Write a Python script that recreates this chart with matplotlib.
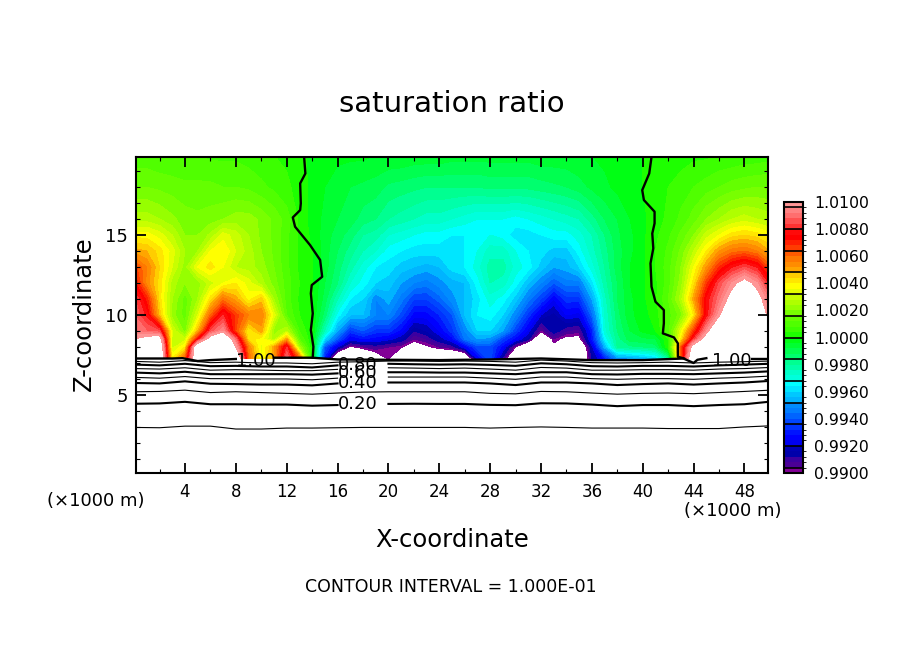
import numpy as np
import matplotlib
matplotlib.use("Agg")
import matplotlib.pyplot as plt
from matplotlib.colors import ListedColormap, BoundaryNorm

W, H = 904, 654

# saturation ratio field, (value - 1) * 1e4, one row per height, one column per km
grid_x = list(range(51))
grid_z = [7.3, 8, 8.5, 9, 10, 11, 12, 13, 14, 15, 16, 18, 20]
sat_dev = [
    [125, 125, 125, 40, 60, 125, 125, 125, 125, 60,
     36, 50, 90, 60, 0, -70, -125, -125, -125, -110,
     -98, -125, -125, -125, -125, -125, -125, -76, -60, -90,
     -125, -125, -125, -125, -125, -125, -88, -70, -50, -48,
     -45, -40, -20, 60, 125, 125, 125, 125, 125, 125, 125],
    [125, 125, 125, 30, 40, 125, 125, 125, 100, 56,
     34, 50, 80, 24, 0, -60, -80, -102, -96, -92,
     -96, -99, -110, -102, -96, -92, -76, -62, -62, -74,
     -100, -125, -125, -104, -125, -125, -82, -46, -20, -17,
     -16, -14, 4, 60, 110, 125, 125, 125, 125, 125, 125],
    [100, 106, 112, 30, 30, 72, 110, 125, 88, 42,
     38, 26, 50, 12, 0, -40, -60, -76, -72, -74,
     -78, -84, -96, -92, -84, -74, -56, -48, -50, -64,
     -74, -86, -125, -96, -104, -104, -72, -36, -18, -10,
     -9, -8, 4, 40, 80, 110, 125, 125, 125, 125, 125],
    [92, 88, 84, 32, 18, 48, 84, 96, 64, 40,
     50, 22, 28, 8, 0, -25, -48, -66, -60, -66,
     -66, -74, -88, -84, -76, -66, -52, -40, -40, -48,
     -64, -78, -98, -85, -92, -94, -70, -30, -16, -8,
     -3, 0, 10, 34, 66, 95, 125, 125, 125, 125, 108],
    [88, 78, 46, 22, 14, 32, 60, 80, 66, 56,
     56, 34, 12, 4, 0, -14, -34, -44, -44, -52,
     -52, -62, -74, -74, -68, -60, -44, -36, -34, -40,
     -52, -66, -80, -86, -76, -78, -58, -28, -14, -5,
     -2, 2, 10, 18, 40, 76, 98, 125, 125, 125, 92],
    [86, 70, 42, 24, 14, 24, 42, 58, 50, 38,
     46, 24, 10, 3, 0, -10, -24, -36, -40, -52,
     -46, -54, -64, -64, -58, -50, -44, -38, -30, -34,
     -42, -54, -64, -76, -66, -66, -48, -26, -12, -5,
     -1, 3, 12, 26, 50, 76, 90, 106, 125, 106, 90],
    [74, 54, 42, 26, 20, 22, 30, 36, 40, 34,
     26, 18, 10, 4, 0, -8, -16, -28, -34, -40,
     -42, -48, -52, -54, -50, -46, -44, -34, -24, -26,
     -34, -44, -52, -60, -54, -54, -38, -22, -12, -4,
     -1, 3, 10, 22, 42, 66, 84, 96, 106, 96, 76],
    [66, 56, 44, 32, 22, 36, 42, 36, 28, 26,
     22, 16, 9, 3, 0, -6, -14, -22, -30, -36,
     -38, -42, -44, -46, -44, -38, -36, -30, -22, -22,
     -30, -34, -42, -48, -46, -40, -30, -20, -10, -4,
     -1, 4, 10, 20, 36, 52, 68, 78, 84, 78, 62],
    [50, 48, 42, 34, 24, 24, 36, 40, 32, 26,
     20, 15, 9, 3, 0, -6, -12, -18, -24, -28,
     -34, -36, -38, -38, -38, -38, -36, -32, -26, -26,
     -32, -36, -38, -42, -42, -34, -26, -18, -10, -5,
     -1, 4, 9, 17, 28, 40, 52, 58, 60, 56, 48],
    [38, 38, 34, 28, 20, 20, 25, 34, 30, 24,
     19, 15, 9, 3, -1, -6, -10, -14, -20, -22,
     -28, -30, -32, -34, -34, -36, -36, -34, -32, -34,
     -38, -38, -36, -34, -34, -30, -24, -16, -9, -5,
     -1, 3, 7, 13, 20, 30, 36, 42, 44, 42, 38],
    [26, 26, 24, 21, 18, 17, 18, 20, 22, 22,
     19, 15, 10, 3, -2, -5, -8, -10, -14, -16,
     -20, -22, -24, -26, -26, -28, -30, -32, -32, -32,
     -34, -32, -30, -28, -26, -24, -18, -12, -8, -4,
     -1, 2, 5, 9, 14, 20, 24, 28, 30, 28, 26],
    [16, 16, 15, 14, 13, 13, 13, 12, 12, 11,
     9, 7, 5, 2, -1, -4, -6, -8, -9, -10,
     -13, -14, -15, -16, -16, -16, -16, -16, -15, -15,
     -15, -15, -14, -13, -12, -10, -7, -5, -3, -1,
     0, 2, 4, 6, 8, 10, 12, 14, 15, 16, 16],
    [9, 9, 8, 8, 8, 8, 7, 7, 7, 6,
     5, 4, 3, 1, -1, -2, -3, -3, -3, -4,
     -4, -4, -5, -5, -5, -6, -6, -6, -6, -6,
     -6, -6, -5, -5, -5, -4, -4, -3, -2, -1,
     0, 1, 2, 2, 3, 3, 4, 4, 5, 5, 6],
]

# colour table, one colour per band, bottom to top
band_rgb = [(130, 0, 150),
            (75, 0, 150), (60, 0, 160), (0, 0, 170), (0, 0, 180),
            (0, 0, 240), (0, 0, 255), (0, 20, 255), (0, 50, 255),
            (0, 70, 255), (0, 100, 255), (0, 125, 255), (0, 140, 255),
            (0, 180, 255), (0, 200, 255), (0, 230, 255), (0, 255, 255),
            (0, 255, 220), (0, 255, 200), (0, 255, 170), (0, 255, 145),
            (0, 255, 110), (0, 255, 80), (0, 255, 50), (0, 255, 20),
            (30, 255, 0), (60, 255, 0), (80, 255, 0), (100, 255, 0),
            (120, 255, 0), (150, 255, 0), (175, 255, 0), (200, 255, 0),
            (230, 255, 0), (255, 255, 0), (255, 230, 0), (255, 205, 0),
            (255, 165, 0), (255, 140, 0), (255, 120, 0), (255, 90, 0),
            (255, 60, 0), (255, 30, 0), (255, 0, 0), (255, 10, 10),
            (255, 50, 50), (255, 80, 80), (255, 110, 110), (255, 130, 130),
            (255, 150, 150)]
cbar_ticks = [0.990, 0.992, 0.994, 0.996, 0.998, 1.000, 1.002, 1.004, 1.006, 1.008, 1.010]

# heights of the lower contours, every 2 km
line_x = list(range(0, 51, 2))
line_heights = {
    0.1: [2.97, 2.95, 3.05, 3.05, 2.87, 2.87, 2.93, 2.93, 2.95, 2.97, 2.97, 2.97, 2.97, 2.97, 2.93, 2.97, 3.0, 2.97, 2.93, 2.93, 2.93, 2.9, 2.9, 2.9, 3.0, 3.07],
    0.2: [4.45, 4.47, 4.57, 4.42, 4.42, 4.40, 4.40, 4.33, 4.37, 4.42, 4.44, 4.45, 4.44, 4.44, 4.38, 4.36, 4.48, 4.47, 4.40, 4.30, 4.37, 4.37, 4.30, 4.37, 4.42, 4.58],
    0.3: [5.2, 5.22, 5.3, 5.15, 5.2, 5.15, 5.1, 5.05, 5.12, 5.18, 5.2, 5.2, 5.2, 5.2, 5.1, 5.07, 5.22, 5.2, 5.12, 5.05, 5.1, 5.12, 5.08, 5.15, 5.22, 5.3],
    0.4: [5.75, 5.72, 5.85, 5.7, 5.68, 5.65, 5.65, 5.6, 5.72, 5.75, 5.78, 5.78, 5.78, 5.78, 5.72, 5.62, 5.78, 5.78, 5.72, 5.62, 5.68, 5.72, 5.65, 5.72, 5.78, 5.88],
    0.5: [6.1, 6.05, 6.15, 6.02, 6.02, 6.0, 6.0, 5.95, 6.05, 6.08, 6.12, 6.12, 6.12, 6.12, 6.05, 5.98, 6.12, 6.12, 6.02, 5.98, 6.02, 6.02, 5.98, 6.05, 6.1, 6.18],
    0.6: [6.4, 6.35, 6.45, 6.3, 6.3, 6.3, 6.3, 6.27, 6.35, 6.4, 6.42, 6.42, 6.4, 6.4, 6.35, 6.3, 6.42, 6.42, 6.3, 6.28, 6.32, 6.32, 6.3, 6.35, 6.4, 6.48],
    0.7: [6.65, 6.62, 6.7, 6.55, 6.58, 6.55, 6.52, 6.52, 6.6, 6.65, 6.7, 6.68, 6.65, 6.68, 6.62, 6.55, 6.72, 6.68, 6.55, 6.55, 6.58, 6.58, 6.55, 6.62, 6.65, 6.72],
    0.8: [6.9, 6.85, 6.95, 6.8, 6.82, 6.78, 6.78, 6.72, 6.85, 6.88, 6.95, 6.92, 6.9, 6.92, 6.88, 6.82, 6.98, 6.92, 6.8, 6.78, 6.82, 6.82, 6.78, 6.85, 6.9, 6.95],
    0.9: [7.1, 7.05, 7.15, 7.02, 7.05, 7.0, 7.0, 6.95, 7.05, 7.08, 7.12, 7.12, 7.1, 7.12, 7.1, 7.05, 7.18, 7.12, 7.02, 7.0, 7.02, 7.05, 7.0, 7.05, 7.08, 7.12],
}
gapped_lines = [0.2, 0.4, 0.5, 0.6, 0.7, 0.8]

# the 1.00 contour: base line plus the two wiggly lines going up
base_x = [0, 3, 3.8, 5, 6, 8, np.nan, 11, 14, 16, 20, 24, 28, 32, 36, 40, 43.2, 44, 44.3, 45, np.nan, 48.6, 50]
base_z = [7.28, 7.28, 7.3, 7.12, 7.18, 7.25, np.nan, 7.33, 7.33, 7.22, 7.2, 7.18, 7.22, 7.28, 7.18, 7.18, 7.28, 7.0, 7.2, 7.3, np.nan, 7.25, 7.25]
left_x = [13.37, 13.47, 13.06, 13.11, 13.06, 12.48, 12.66, 13.84, 14.63, 14.79, 13.97, 13.9, 14.05, 13.9, 14.1, 14.05]
left_z = [19.88, 18.85, 18.23, 16.98, 16.56, 16.1, 15.52, 14.37, 13.44, 12.39, 11.87, 11.35, 10.1, 9.06, 8.02, 7.33]
right_x = [40.69, 40.51, 39.96, 40.09, 40.93, 40.93, 40.75, 40.83, 40.61, 40.69, 41.0, 41.66, 41.66, 41.58, 42.45, 42.76, 42.76, 43.24]
right_z = [19.88, 18.85, 17.81, 17.19, 16.46, 15.73, 15.1, 14.17, 13.23, 11.77, 10.83, 10.31, 9.48, 8.85, 8.6, 8.23, 7.39, 7.28]

# label text, x position, z position
line_labels = [("0.20", 17.6, 4.42), ("0.40", 17.6, 5.72), ("0.60", 17.6, 6.35), ("0.80", 17.6, 6.85),
               ("1.00", 9.6, 7.15), ("1.00", 47.0, 7.15)]


def px_text(fig, x, y, s, **kw):
    fig.text(x / W, 1 - y / H, s, ha="center", va="center", color="black", **kw)


def main():
    fig = plt.figure(figsize=(W / 100, H / 100), dpi=100, facecolor="white")
    ax = fig.add_axes([136 / W, 1 - 473 / H, 632 / W, 316 / H])

    levels = 0.99 + 0.0004 * np.arange(51)
    cmap = ListedColormap(np.array(band_rgb) / 255)
    norm = BoundaryNorm(levels, 50)

    field = 1 + np.array(sat_dev) * 1e-4
    cf = ax.contourf(grid_x, grid_z, field, levels=levels, cmap=cmap, norm=norm, zorder=1)

    xs = np.array(line_x, dtype=float)
    for level, zs in line_heights.items():
        zs = np.array(zs)
        if level in gapped_lines:
            zs = np.where(xs == 18, np.nan, zs)
        thick = round(level * 10) % 2 == 0
        ax.plot(xs, zs, color="black", lw=1.5 if thick else 0.8, zorder=3)
    ax.plot(base_x, base_z, color="black", lw=1.7, zorder=3)
    ax.plot(left_x, left_z, color="black", lw=1.7, zorder=3)
    ax.plot(right_x, right_z, color="black", lw=1.7, zorder=3)

    for s, x, z in line_labels:
        ax.text(x, z, s, fontsize=13, ha="center", va="center", color="black", zorder=4)

    ax.set_xlim(0.15, 49.85)
    ax.set_ylim(0.12, 19.88)
    ax.set_xticks(range(4, 49, 4))
    ax.set_xticks(range(2, 50, 2), minor=True)
    ax.set_yticks([5, 10, 15])
    ax.set_yticks(range(1, 20), minor=True)
    ax.tick_params(which="major", direction="in", top=True, right=True, length=7, width=1.3, labelsize=12)
    ax.tick_params(axis="x", which="major", pad=7)
    ax.tick_params(axis="y", which="major", pad=6, labelsize=13)
    ax.tick_params(which="minor", direction="in", top=True, right=True, length=3, width=0.8)
    for spine in ax.spines.values():
        spine.set_linewidth(1.5)
        spine.set_zorder(5)

    # colour bar
    cax = fig.add_axes([784 / W, 1 - 473 / H, 19 / W, 271 / H])
    cb = fig.colorbar(cf, cax=cax, ticks=cbar_ticks, spacing="proportional")
    cb.ax.set_yticklabels(["%.4f" % t for t in cbar_ticks], fontsize=11.3)
    cb.ax.tick_params(length=0, pad=8)
    cb.outline.set_linewidth(1.5)
    cb.ax.hlines(levels[1::4], 0, 1, transform=cb.ax.get_yaxis_transform(), color="black", lw=1.2)

    px_text(fig, 452, 104, "saturation ratio", fontsize=21)
    px_text(fig, 452, 540, "X-coordinate", fontsize=17.5)
    px_text(fig, 84, 314, "Z-coordinate", fontsize=17.5, rotation=90)
    px_text(fig, 96, 501, "(\u00d71000 m)", fontsize=13)
    px_text(fig, 733, 511, "(\u00d71000 m)", fontsize=13)
    px_text(fig, 451, 587, "CONTOUR INTERVAL = 1.000E-01", fontsize=12.5)

    fig.savefig("out.png", dpi=100)
    plt.close(fig)


if __name__ == "__main__":
    main()
